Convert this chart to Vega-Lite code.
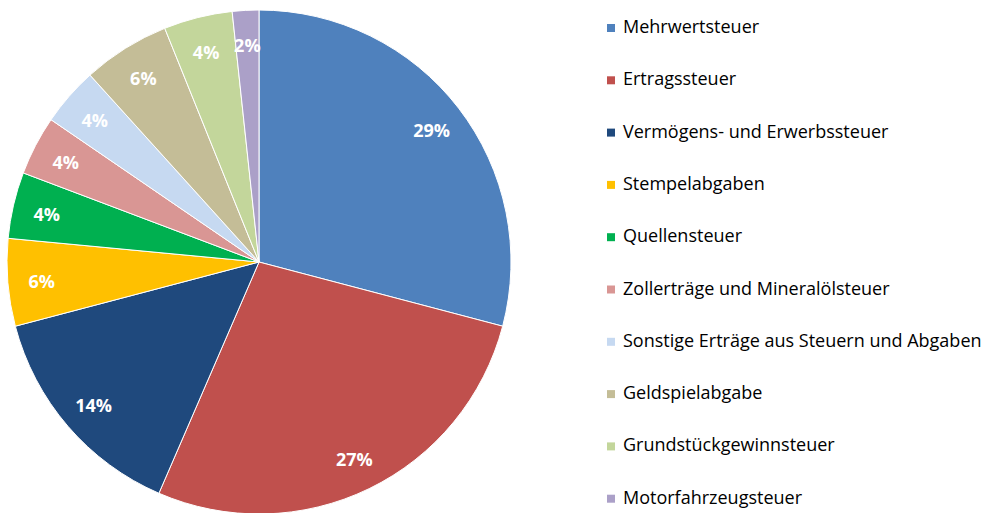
{
  "$schema": "https://vega.github.io/schema/vega-lite/v6.json",
  "autosize": "none",
  "width": 518,
  "height": 502,
  "padding": {"left": 0, "top": 11, "right": 476, "bottom": 0},
  "background": "white",
  "config": {"view": {"stroke": null}},
  "data": {"values": [
    {"idx": 1, "kategorie": "Mehrwertsteuer", "anteil": 0.291},
    {"idx": 2, "kategorie": "Ertragssteuer", "anteil": 0.274},
    {"idx": 3, "kategorie": "Vermögens- und Erwerbssteuer", "anteil": 0.144},
    {"idx": 4, "kategorie": "Stempelabgaben", "anteil": 0.056},
    {"idx": 5, "kategorie": "Quellensteuer", "anteil": 0.0425},
    {"idx": 6, "kategorie": "Zollerträge und Mineralölsteuer", "anteil": 0.038},
    {"idx": 7, "kategorie": "Sonstige Erträge aus Steuern und Abgaben", "anteil": 0.0375},
    {"idx": 8, "kategorie": "Geldspielabgabe", "anteil": 0.056},
    {"idx": 9, "kategorie": "Grundstückgewinnsteuer", "anteil": 0.044},
    {"idx": 10, "kategorie": "Motorfahrzeugsteuer", "anteil": 0.017}
  ]},
  "encoding": {
    "theta": {"field": "anteil", "type": "quantitative", "stack": true},
    "order": {"field": "idx", "type": "quantitative"}
  },
  "layer": [
    {
      "mark": {"type": "arc", "outerRadius": 252, "stroke": "white", "strokeWidth": 1},
      "encoding": {
        "color": {
          "field": "kategorie",
          "type": "nominal",
          "scale": {
            "domain": ["Mehrwertsteuer", "Ertragssteuer", "Vermögens- und Erwerbssteuer", "Stempelabgaben", "Quellensteuer", "Zollerträge und Mineralölsteuer", "Sonstige Erträge aus Steuern und Abgaben", "Geldspielabgabe", "Grundstückgewinnsteuer", "Motorfahrzeugsteuer"],
            "range": ["#4F81BD", "#C0504D", "#1F497D", "#FFC000", "#00B050", "#D99694", "#C6D9F1", "#C4BD97", "#C3D69B", "#ABA0C8"]
          },
          "legend": {
            "title": null,
            "orient": "none",
            "legendX": 602,
            "legendY": 8,
            "symbolType": "square",
            "symbolSize": 64,
            "symbolStrokeWidth": 0,
            "labelFont": "Open Sans",
            "labelFontSize": 18,
            "labelColor": "#000000",
            "labelOffset": 3,
            "labelLimit": 400,
            "rowPadding": 34.3,
            "padding": 0
          }
        }
      }
    },
    {
      "mark": {"type": "text", "radius": 218, "dy": 3, "font": "Open Sans", "fontSize": 18, "fontWeight": "bold", "fill": "white"},
      "encoding": {
        "text": {"field": "anteil", "type": "quantitative", "format": ".0%"}
      }
    }
  ]
}
